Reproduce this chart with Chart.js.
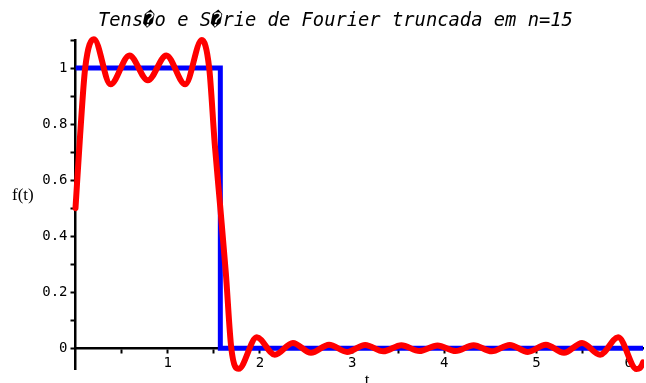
<!DOCTYPE html>
<html>
<head>
<meta charset="utf-8">
<script src="https://cdn.jsdelivr.net/npm/chart.js@4.4.1/dist/chart.umd.min.js"></script>
<style>
  body { margin: 0; background: #fff; }
  #wrap { width: 646px; height: 383px; position: relative; }
</style>
</head>
<body>
<div id="wrap"><canvas id="chart"></canvas></div>
<script>
// square wave (blue)
var blueT = [0, 1.5708, 1.5708, 6.2832];
var blueF = [1, 1, 0, 0];

// truncated Fourier series, n=15 (red)
var redT = [0, 0.05, 0.105, 0.2, 0.38, 0.585, 0.785, 0.985, 1.19, 1.37, 1.45, 1.51, 1.571, 1.63, 1.69,
            1.77, 1.966, 2.162, 2.358, 2.554, 2.75, 2.946, 3.142, 3.338, 3.534, 3.73, 3.926,
            4.122, 4.318, 4.514, 4.71, 4.906, 5.102, 5.298, 5.494, 5.69, 5.886, 6.085,
            6.155, 6.22, 6.283];
var redF = [0.5, 0.76, 1.0, 1.103, 0.942, 1.045, 0.956, 1.045, 0.942, 1.1, 1.0, 0.73, 0.5, 0.27, 0.0,
            -0.073, 0.039, -0.023, 0.019, -0.016, 0.013, -0.013, 0.012, -0.011, 0.011, -0.01, 0.01,
            -0.01, 0.011, -0.011, 0.012, -0.013, 0.013, -0.016, 0.019, -0.023, 0.039, -0.074,
            -0.05, 0.2, 0.5];

var xTickValues = [0.5, 1, 1.5, 2, 2.5, 3, 3.5, 4, 4.5, 5, 5.5, 6];
var xTickLabels = ['', '1', '', '2', '', '3', '', '4', '', '5', '', '6'];
var yTickValues = [0, 0.1, 0.2, 0.3, 0.4, 0.5, 0.6, 0.7, 0.8, 0.9, 1, 1.1];
var yTickLabels = ['0', '', '0.2', '', '0.4', '', '0.6', '', '0.8', '', '1', ''];

var title = 'Tens\uFFFDo e S\uFFFDrie de Fourier truncada em n=15';

function pts(xs, ys) {
    return xs.map((x, i) => ({x: x, y: ys[i]}));
}

const textPlugin = {
    id: 'texts',
    afterDraw(chart) {
        const c = chart.ctx;
        c.save();
        c.fillStyle = '#000';
        c.textBaseline = 'alphabetic';
        c.textAlign = 'left';
        c.font = 'oblique 18.8px "DejaVu Sans Mono"';
        c.fillText(title, 98, 25.5);
        c.font = '17px "Liberation Serif"';
        c.fillText('f(t)', 12, 200);
        c.textAlign = 'center';
        c.fillText('t', 367, 385);
        c.restore();
    }
};

const tickFont = {family: 'DejaVu Sans Mono', size: 14};

new Chart(document.getElementById('chart'), {
    type: 'line',
    data: {
        datasets: [{
            data: pts(redT, redF),
            borderColor: '#ff0000',
            borderWidth: 6,
            pointRadius: 0,
            cubicInterpolationMode: 'monotone',
            borderCapStyle: 'round',
            borderJoinStyle: 'round',
            clip: {left: 5, top: 5, right: 1, bottom: 8},
            fill: false
        }, {
            data: pts(blueT, blueF),
            borderColor: '#0000ff',
            borderWidth: 5,
            pointRadius: 0,
            tension: 0,
            borderJoinStyle: 'miter',
            fill: false
        }]
    },
    options: {
        responsive: true,
        maintainAspectRatio: false,
        animation: false,
        layout: { padding: { left: 0, right: 3, top: 40, bottom: 13.7 } },
        plugins: { legend: { display: false }, tooltip: { enabled: false }, title: { display: false } },
        scales: {
            x: {
                type: 'linear',
                min: 0,
                max: 6.155,
                position: { y: 0 },
                z: 1,
                afterBuildTicks: s => { s.ticks = xTickValues.map(v => ({value: v})); },
                ticks: {
                    autoSkip: false, maxRotation: 0, padding: 3, color: '#000', font: tickFont,
                    callback: (v, i) => xTickLabels[i]
                },
                grid: { drawOnChartArea: false, drawTicks: true, tickLength: 4, tickWidth: 2, tickColor: '#000' },
                border: { display: true, color: '#000', width: 2.5 }
            },
            y: {
                type: 'linear',
                min: -0.075,
                max: 1.1,
                position: 'left',
                z: 1,
                afterFit: s => { s.width = 75.5; },
                afterBuildTicks: s => { s.ticks = yTickValues.map(v => ({value: v})); },
                ticks: {
                    autoSkip: false, padding: 3, color: '#000', font: tickFont,
                    callback: (v, i) => yTickLabels[i]
                },
                grid: { drawOnChartArea: false, drawTicks: true, tickLength: 5, tickWidth: 2, tickColor: '#000' },
                border: { display: true, color: '#000', width: 2.5 }
            }
        }
    },
    plugins: [textPlugin]
});
</script>
</body>
</html>
